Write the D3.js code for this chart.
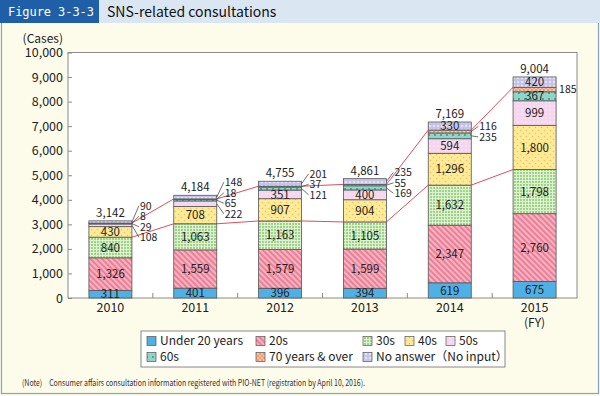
<!DOCTYPE html>
<html><head><meta charset="utf-8">
<script src="https://cdn.jsdelivr.net/npm/d3@7"></script>
<style>body{margin:0;background:#fff}svg{display:block}</style>
</head><body>
<svg id="c" width="600" height="396"></svg>
<script>
// ---- data ----
const years = ["2010","2011","2012","2013","2014","2015"];
const seriesNames = ["Under 20 years","20s","30s","40s","50s","60s","70 years & over","No answer（No input）"];
const under20 = [311,401,396,394,619,675];
const s20s = [1326,1559,1579,1599,2347,2760];
const s30s = [840,1063,1163,1105,1632,1798];
const s40s = [430,708,907,904,1296,1800];
const s50s = [108,222,351,400,594,999];
const s60s = [29,65,121,169,235,367];
const s70over = [8,18,37,55,116,185];
const noAnswer = [90,148,201,235,330,420];
const totals = [3142,4184,4755,4861,7169,9004];
const yTicks = [0,1000,2000,3000,4000,5000,6000,7000,8000,9000,10000];

const seriesVals = [under20,s20s,s30s,s40s,s50s,s60s,s70over,noAnswer];
const keys = seriesNames;
const table = years.map((y,i)=>{const o={year:y};keys.forEach((k,j)=>o[k]=seriesVals[j][i]);return o;});

const FONT = "'Noto Sans CJK JP','Noto Sans',sans-serif";
const svg = d3.select("#c");

// background & frame
svg.append("rect").attr("x",0).attr("y",0).attr("width",600).attr("height",396).attr("fill","#fdfcea");
svg.append("rect").attr("x",1.5).attr("y",1).attr("width",597).attr("height",392.5).attr("fill","none").attr("stroke","#86a2bf").attr("stroke-width",1.2);
svg.append("rect").attr("x",0).attr("y",0).attr("width",600).attr("height",23).attr("fill","#dbe6f3");
svg.append("rect").attr("x",0).attr("y",0).attr("width",99).attr("height",23).attr("fill","#1f5fa8");
svg.append("text").attr("x",8).attr("y",16).attr("fill","#fff").attr("font-family","'DejaVu Sans Mono',monospace")
  .attr("font-size",12).attr("textLength",86).attr("lengthAdjust","spacing").text("Figure 3-3-3");
svg.append("text").attr("x",107).attr("y",17).attr("fill","#111").attr("font-family",FONT)
  .attr("font-size",14).text("SNS-related consultations");

// ---- patterns ----
const defs = svg.append("defs");
function pat(id,w,h,bg,fn,transform){
  const p = defs.append("pattern").attr("id",id).attr("patternUnits","userSpaceOnUse").attr("width",w).attr("height",h);
  if(transform) p.attr("patternTransform",transform);
  p.append("rect").attr("width",w).attr("height",h).attr("fill",bg);
  fn(p); return p;
}
pat("p0",4,4,"#4fb0e5",()=>{});
pat("p1",4,4,"#f6b3c1",p=>{p.append("rect").attr("x",0).attr("y",0).attr("width",2).attr("height",4).attr("fill","#ec7f97");},"rotate(-45)");
pat("p2",3,3,"#9fd487",p=>{p.append("rect").attr("width",3).attr("height",0.9).attr("fill","#e4f4da");p.append("rect").attr("width",0.9).attr("height",3).attr("fill","#e4f4da");});
pat("p3",6,6,"#fdeb97",p=>{p.append("circle").attr("cx",1.5).attr("cy",1.5).attr("r",0.8).attr("fill","#f1bf5e");p.append("circle").attr("cx",4.5).attr("cy",4.5).attr("r",0.8).attr("fill","#f1bf5e");});
pat("p4",4,4,"#f5d6ee",p=>{p.append("path").attr("d","M1,2.5L2,1L3,2.5Z").attr("fill","#fdf2fa");});
pat("p5",6,6,"#8fd5c9",p=>{p.append("circle").attr("cx",3).attr("cy",3).attr("r",0.9).attr("fill","#2f8f7e");});
pat("p6",4,4,"#f39a6c",p=>{p.append("path").attr("d","M0,0L4,4M4,0L0,4").attr("stroke","#fbd3bd").attr("stroke-width",0.8);});
pat("p7",4,4,"#c4c1ea",p=>{p.append("path").attr("d","M2,0.6L3.4,2L2,3.4L0.6,2Z").attr("fill","#ecebf9");});

// ---- scales ----
const pLeft=68, pRight=577, pTop=52.5, pBottom=298;
const x = d3.scaleBand().domain(years).range([pLeft,pRight]).paddingInner(0.493).paddingOuter(0.2465);
const y = d3.scaleLinear().domain([0,10000]).range([pBottom,pTop]);

// plot area
svg.append("rect").attr("x",pLeft).attr("y",pTop).attr("width",pRight-pLeft).attr("height",pBottom-pTop)
  .attr("fill","#fff").attr("stroke","#8a8a8a").attr("stroke-width",1);

// y axis
const yAxis = d3.axisLeft(y).tickValues(yTicks).tickSize(-4).tickPadding(5).tickFormat(d3.format(","));
const ya = svg.append("g").attr("transform",`translate(${pLeft},0)`).call(yAxis);
ya.select(".domain").remove();
ya.selectAll("line").attr("stroke","#8a8a8a");
ya.selectAll("text").attr("font-family",FONT).attr("font-size",12.5).attr("fill","#222");
svg.append("text").attr("x",63).attr("y",42.5).attr("text-anchor","end").attr("font-family",FONT).attr("font-size",12).attr("fill","#222").text("(Cases)");

// x axis
const xa = svg.append("g").attr("transform",`translate(0,${pBottom})`).call(d3.axisBottom(x).tickSize(0).tickPadding(5));
xa.select(".domain").remove();
xa.selectAll("text").attr("font-family",FONT).attr("font-size",12.5).attr("fill","#222");
svg.append("text").attr("x",x("2015")+x.bandwidth()/2).attr("y",327).attr("text-anchor","middle")
  .attr("font-family",FONT).attr("font-size",12).attr("fill","#222").text("(FY)");
// inner ticks between categories
const step = x.step();
years.slice(1).forEach((d,i)=>{
  const bx = x(d) - (step - x.bandwidth())/2;
  svg.append("line").attr("x1",bx).attr("x2",bx).attr("y1",pBottom).attr("y2",pBottom-5).attr("stroke","#8a8a8a");
});

// ---- stacks ----
const stack = d3.stack().keys(keys)(table);
const g = svg.append("g");
stack.forEach((layer,j)=>{
  g.append("g").selectAll("rect").data(layer).join("rect")
    .attr("x",d=>x(d.data.year)).attr("width",x.bandwidth())
    .attr("y",d=>y(d[1])).attr("height",d=>y(d[0])-y(d[1]))
    .attr("fill",`url(#p${j})`).attr("stroke","#555").attr("stroke-width",0.8);
});

// connector lines (tops of 30s and tops of 70+)
[2,6].forEach(j=>{
  years.slice(0,-1).forEach((yr,i)=>{
    const a = stack[j][i][1], b = stack[j][i+1][1];
    svg.append("line").attr("x1",x(yr)+x.bandwidth()).attr("y1",y(a))
      .attr("x2",x(years[i+1])).attr("y2",y(b)).attr("stroke","#d9505c").attr("stroke-width",1);
  });
});

// labels
const lbl = svg.append("g").attr("font-family",FONT).attr("font-size",11.5).attr("fill","#222");
const fmt = d3.format(",");
years.forEach((yr,i)=>{
  const cx = x(yr)+x.bandwidth()/2, xr = x(yr)+x.bandwidth();
  const outside = [];
  stack.forEach((layer,j)=>{
    const d = layer[i], v = d[1]-d[0];
    const mid = (y(d[0])+y(d[1]))/2;
    if(v>=300){
      lbl.append("text").attr("x",cx).attr("y",mid).attr("dy","0.36em").attr("text-anchor","middle").text(fmt(v));
    } else outside.push({v,mid});
  });
  outside.reverse(); // top first
  const n = outside.length;
  const mean = d3.mean(outside,d=>d.mid);
  const sp = 10.5;
  outside.forEach((o,k)=>{
    const ly = n===1 ? o.mid : mean - 2 + (k-(n-1)/2)*sp;
    if(n>1){
      svg.append("line").attr("x1",xr).attr("y1",o.mid).attr("x2",xr+7).attr("y2",ly).attr("stroke","#333").attr("stroke-width",0.7);
    }
    lbl.append("text").attr("x",xr+(n>1?8:3)).attr("y",ly).attr("dy","0.36em").attr("font-size",10.5).text(fmt(o.v));
  });
  lbl.append("text").attr("x",cx).attr("y",y(totals[i])-8).attr("dy","0.36em").attr("text-anchor","middle").text(fmt(totals[i]));
});

// legend
svg.append("rect").attr("x",141).attr("y",331).attr("width",364).attr("height",36).attr("fill","#fff").attr("stroke","#888");
const legPos = [[147,341],[256,341],[363,341],[405,341],[446,341],[147,357],[256,357],[363,357]];
seriesNames.forEach((nm,j)=>{
  const [lx,ly] = legPos[j];
  svg.append("rect").attr("x",lx).attr("y",ly-4.5).attr("width",9).attr("height",9).attr("fill",`url(#p${j})`).attr("stroke","#555").attr("stroke-width",0.7);
  svg.append("text").attr("x",lx+13).attr("y",ly).attr("dy","0.36em").attr("font-family",FONT).attr("font-size",12).attr("fill","#222").text(nm);
});

// note
svg.append("text").attr("x",22).attr("y",383).attr("dy","0.32em").attr("font-family",FONT).attr("font-size",9)
  .attr("textLength",343).attr("lengthAdjust","spacingAndGlyphs").attr("fill","#333")
  .text("(Note)　Consumer affairs consultation information registered with PIO-NET (registration by April 10, 2016).");
</script>
</body></html>
